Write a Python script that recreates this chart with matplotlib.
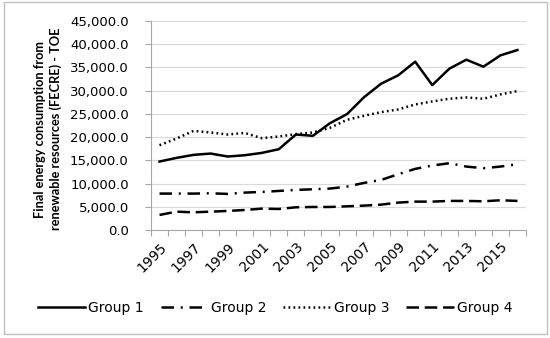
import matplotlib
matplotlib.use("Agg")
import matplotlib.pyplot as plt
import numpy as np
from matplotlib.ticker import FuncFormatter, FixedLocator
from matplotlib.patches import Rectangle

years = list(range(1995, 2017))
group1 = [14740, 15530, 16180, 16460, 15820, 16100, 16600, 17400, 20560, 20280, 23000,
          24950, 28600, 31500, 33300, 36240, 31200, 34730, 36670, 35160, 37600, 38750]
group2 = [7840, 7840, 7840, 7900, 7770, 8050, 8200, 8410, 8630, 8770, 8920,
          9350, 10140, 10780, 12000, 13160, 13880, 14380, 13660, 13300, 13660, 14160]
group3 = [18260, 19700, 21350, 21000, 20560, 20900, 19770, 20130, 20640, 21000, 22000,
          23730, 24590, 25380, 25960, 27030, 27680, 28260, 28540, 28260, 29190, 29910]
group4 = [3240, 3950, 3810, 3950, 4100, 4310, 4600, 4530, 4890, 4960, 4960,
          5100, 5250, 5460, 5900, 6110, 6110, 6260, 6260, 6180, 6400, 6260]
labels = ["Group 1", "Group 2", "Group 3", "Group 4"]
ylabel = "Final energy consumption from\nrenewable resources (FECRE) - TOE"

plt.rcParams['font.family'] = ['DejaVu Sans']

fig = plt.figure(figsize=(5.5, 3.38), dpi=100)
ax = fig.add_axes([151/550, 1-230/338, 375/550, 209/338])

x = np.arange(len(years))
lw = 1.8
ax.plot(x, group1, color='black', lw=lw, linestyle='-', label=labels[0])
ax.plot(x, group2, color='black', lw=lw, linestyle=(0, (5, 2.7, 0.8, 2.7)), label=labels[1])
ax.plot(x, group3, color='black', lw=lw, linestyle=(0, (0.7, 1.3)), label=labels[2])
ax.plot(x, group4, color='black', lw=lw, linestyle=(0, (5, 2.3)), label=labels[3])

ax.set_xlim(-0.5, len(years) - 0.5)
ax.set_ylim(0, 45000)
ax.set_yticks(np.arange(0, 45001, 5000))
ax.yaxis.set_major_formatter(FuncFormatter(lambda v, p: f"{v:,.1f}"))
ax.grid(axis='y', color='#d9d9d9', lw=0.8)
ax.set_axisbelow(True)

ax.set_xticks(x[::2])
ax.set_xticklabels([str(y) for y in years[::2]], rotation=45, ha='right', rotation_mode='anchor')
ax.xaxis.set_minor_locator(FixedLocator(np.arange(-0.5, len(years), 1)))
ax.tick_params(axis='x', which='major', length=0, pad=7, labelsize=10)
ax.tick_params(axis='x', which='minor', length=4, color='#a6a6a6', width=0.8)
ax.tick_params(axis='y', length=4, color='#a6a6a6', width=0.8, pad=12, labelsize=9.5)

for s in ['top', 'right']:
    ax.spines[s].set_visible(False)
for s in ['left', 'bottom']:
    ax.spines[s].set_color('#a6a6a6')
    ax.spines[s].set_linewidth(0.8)

fig.text(48/550, 1-129/338, ylabel, rotation=90, ha='center', va='center',
         fontsize=9.2, fontweight='bold', linespacing=1.3, family='Lato')

leg = fig.legend(loc='center', bbox_to_anchor=(0.5, 1-308/338), ncol=4, frameon=False,
                 fontsize=10, handlelength=3.45, columnspacing=1.2, handletextpad=0.2)

fig.patches.append(Rectangle((4/550, 4/338), 543/550, 332/338, transform=fig.transFigure,
                             fill=False, edgecolor='#bfbfbf', lw=1))

fig.savefig('out.png', dpi=100)
